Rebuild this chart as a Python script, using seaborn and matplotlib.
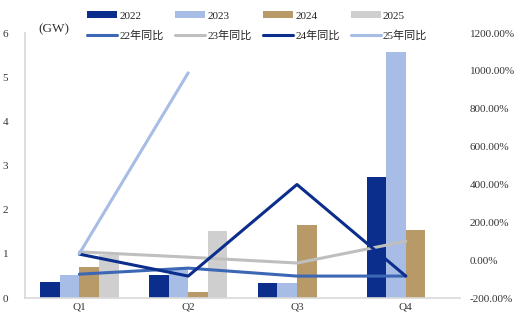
import matplotlib
matplotlib.use("Agg")
import matplotlib.pyplot as plt
import seaborn as sns
import pandas as pd
import numpy as np
from matplotlib.patches import Patch
from matplotlib.lines import Line2D

quarters = ["Q1", "Q2", "Q3", "Q4"]
v2022 = [0.36, 0.52, 0.34, 2.74]
v2023 = [0.52, 0.66, 0.34, 5.58]
v2024 = [0.70, 0.14, 1.65, 1.55]
v2025 = [0.97, 1.52, np.nan, np.nan]

yoy22 = [-74, -42, -84, -84]
yoy23 = [44, 16, -15, 100]
yoy24 = [32, -84, 400, -84]
yoy25 = [35, 990, np.nan, np.nan]

bar_names = ["2022", "2023", "2024", "2025"]
line_names = ["22年同比", "23年同比", "24年同比", "25年同比"]
bar_colors = ["#0b2d8b", "#a7bde6", "#b89968", "#d0cfcf"]
line_colors = ["#3c67b5", "#bfbfbf", "#0b2d8b", "#a7bde6"]

sns.set_theme(style="white")
plt.rcParams["font.family"] = ["Liberation Serif", "Noto Sans CJK SC"]

bars = pd.DataFrame({
    "quarter": quarters * 4,
    "year": sum([[n] * 4 for n in bar_names], []),
    "value": v2022 + v2023 + v2024 + v2025,
})
lines = pd.DataFrame({
    "x": list(range(4)) * 4,
    "series": sum([[n] * 4 for n in line_names], []),
    "pct": yoy22 + yoy23 + yoy24 + yoy25,
}).dropna()

fig = plt.figure(figsize=(5.2, 3.25), dpi=100)
ax = fig.add_axes([0.048, 0.083, 0.837, 0.815])
sns.barplot(data=bars, x="quarter", y="value", hue="year", order=quarters,
            hue_order=bar_names, palette=bar_colors, width=0.72,
            linewidth=0, saturation=1, ax=ax, legend=False)
ax.set_ylim(0, 6)
ax.set_xlim(-0.5, 3.5)
ax.set_yticks(range(0, 7))
ax.set_xlabel("")
ax.set_ylabel("")
ax.tick_params(axis="both", length=0, labelsize=8, colors="#333333")
ax.tick_params(axis="y", pad=12)
for s in ["top", "right"]:
    ax.spines[s].set_visible(False)
ax.spines["left"].set_color("#d9d9d9")
ax.spines["bottom"].set_color("#d9d9d9")
ax.spines["bottom"].set_linewidth(1.2)
ax.text(0.03, 1.015, "(GW)", transform=ax.transAxes, fontsize=9.5,
        color="#333333", va="center", ha="left")

ax2 = ax.twinx()
sns.lineplot(data=lines, x="x", y="pct", hue="series", hue_order=line_names,
             palette=line_colors, linewidth=2.2, ax=ax2, legend=False)
ax2.set_ylim(-200, 1200)
ax2.set_xlim(-0.5, 3.5)
ax2.set_yticks(range(-200, 1201, 200))
ax2.set_yticklabels([f"{v:.2f}%" for v in range(-200, 1201, 200)])
ax2.set_ylabel("")
ax2.set_xlabel("")
ax2.tick_params(axis="y", length=0, labelsize=8, colors="#333333", pad=7)
for s in ["top", "right", "left", "bottom"]:
    ax2.spines[s].set_visible(False)

handles = []
labels = []
for i in range(4):
    handles.append(Patch(facecolor=bar_colors[i], edgecolor="none"))
    labels.append(bar_names[i])
    handles.append(Line2D([0], [0], color=line_colors[i], linewidth=2.2))
    labels.append(line_names[i])
fig.legend(handles, labels, ncol=4, loc="center", bbox_to_anchor=(0.495, 0.92),
           frameon=False, fontsize=8, handlelength=2.7, handleheight=0.6,
           columnspacing=1.0, handletextpad=0.2, labelspacing=0.85)

fig.savefig("out.png", dpi=100)
